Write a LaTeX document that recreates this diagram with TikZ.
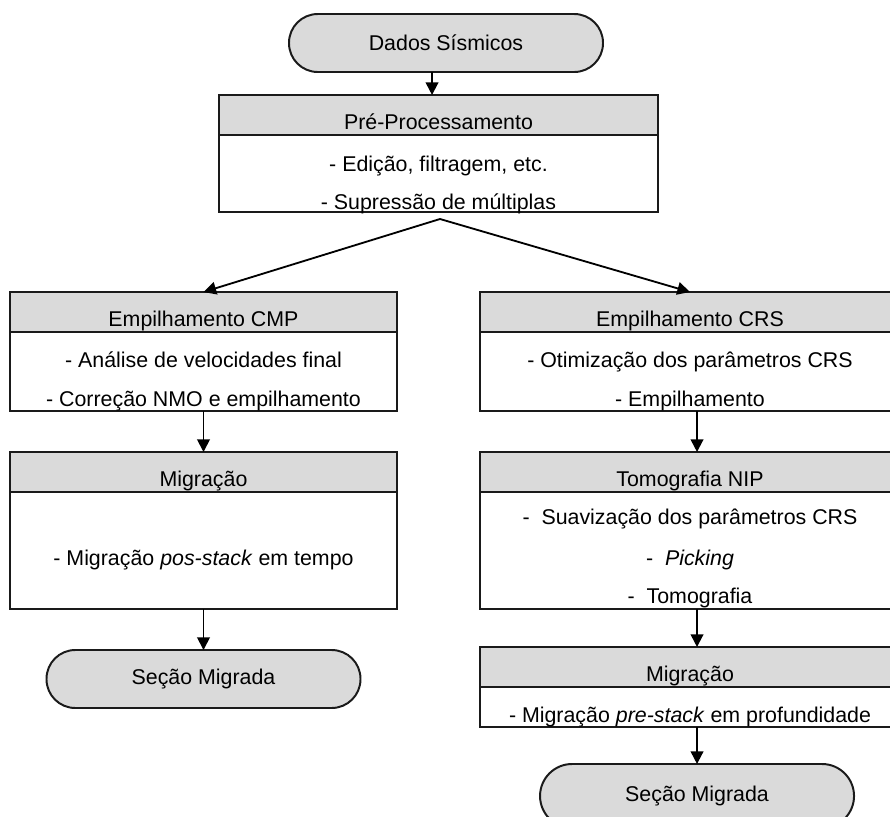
\documentclass[tikz,border=0pt]{standalone}
\usepackage{fontspec}
\setmainfont{Liberation Sans}
\usepackage{tikz}
\usetikzlibrary{arrows.meta, positioning}
\definecolor{boxline}{HTML}{1A1A1A}
\definecolor{hdrfill}{HTML}{DADADA}
\tikzset{
  hdr/.style={draw=boxline, line width=1.4pt, fill=hdrfill, inner sep=0pt, outer sep=0pt,
              text height=0.87cm, text depth=0.13cm, anchor=north},
  body/.style={draw=boxline, line width=1.4pt, fill=white, inner sep=0pt, outer sep=0pt},
  pill/.style={draw=boxline, line width=1.4pt, fill=hdrfill, rounded corners=0.72cm,
               minimum width=7.85cm, minimum height=1.45cm, inner sep=0pt, outer sep=0pt},
  item/.style={anchor=base, inner sep=0pt},
  flow/.style={-{Triangle[length=9pt, width=9pt]}, line width=1.3pt, draw=black},
}

\begin{document}
\begin{tikzpicture}[font=\fontsize{15.2}{18}\selectfont]
  \useasboundingbox (0,0) rectangle (22.25,-20.4);

  \node[pill] (dados) at (11.15,-1.075) {Dados Sísmicos};

  \node[hdr, minimum width=10.975cm] (preH) at (10.9625,-2.375) {Pré-Processamento};
  \node[body, minimum width=10.975cm, minimum height=1.925cm, below=0pt of preH] (preB) {};
  \node[item] (pre1) at (10.9625,-4.275) {- Edição, filtragem, etc.};
  \node[item] (pre2) at (10.9625,-5.225) {- Supressão de múltiplas};

  \node[hdr, minimum width=9.675cm] (cmpH) at (5.0875,-7.3) {Empilhamento CMP};
  \node[body, minimum width=9.675cm, minimum height=1.975cm, below=0pt of cmpH] (cmpB) {};
  \node[item] (cmp1) at (5.0875,-9.19) {- Análise de velocidades final};
  \node[item] (cmp2) at (5.0875,-10.17) {- Correção NMO e empilhamento};

  \node[hdr, minimum width=9.675cm] (migLH) at (5.0875,-11.3) {Migração};
  \node[body, minimum width=9.675cm, minimum height=2.925cm, below=0pt of migLH] (migLB) {};
  \node[item] (migL1) at (5.0875,-14.125) {- Migração \textit{pos-stack} em tempo};

  \node[pill] (secL) at (5.0875,-16.975) {Seção Migrada};

  \node[hdr, minimum width=10.5cm] (crsH) at (17.25,-7.3) {Empilhamento CRS};
  \node[body, minimum width=10.5cm, minimum height=1.975cm, below=0pt of crsH] (crsB) {};
  \node[item] (crs1) at (17.25,-9.19) {- Otimização dos parâmetros CRS};
  \node[item] (crs2) at (17.25,-10.17) {- Empilhamento};

  \node[hdr, minimum width=10.5cm] (nipH) at (17.25,-11.3) {Tomografia NIP};
  \node[body, minimum width=10.5cm, minimum height=2.925cm, below=0pt of nipH] (nipB) {};
  \node[item] (nip1) at (17.25,-13.1) {-~~Suavização dos parâmetros CRS};
  \node[item] (nip2) at (17.25,-14.125) {-~~\textit{Picking}};
  \node[item] (nip3) at (17.25,-15.075) {-~~Tomografia};

  \node[hdr, minimum width=10.5cm] (migRH) at (17.25,-16.175) {Migração};
  \node[body, minimum width=10.5cm, minimum height=1.0cm, below=0pt of migRH] (migRB) {};
  \node[item] (migR1) at (17.25,-18.05) {- Migração \textit{pre-stack} em profundidade};

  \node[pill, minimum height=1.6cm, rounded corners=0.8cm] (secR) at (17.426,-19.9) {Seção Migrada};

  \coordinate (split) at (11.0,-5.475);
  \draw[flow] ([xshift=-4.6pt]preH.north |- dados.south) -- ([xshift=-4.6pt]preH.north);
  \draw[flow] (split) -- (cmpH.north);
  \draw[flow] (split) -- (crsH.north);
  \draw[flow] (cmpB.south) -- (migLH.north);
  \draw[flow] (migLB.south) -- (secL.north);
  \draw[flow] ([xshift=5pt]crsB.south) -- ([xshift=5pt]nipH.north);
  \draw[flow] ([xshift=5pt]nipB.south) -- ([xshift=5pt]migRH.north);
  \draw[flow] ([xshift=5pt]migRB.south) -- (secR.north);
\end{tikzpicture}
\end{document}
